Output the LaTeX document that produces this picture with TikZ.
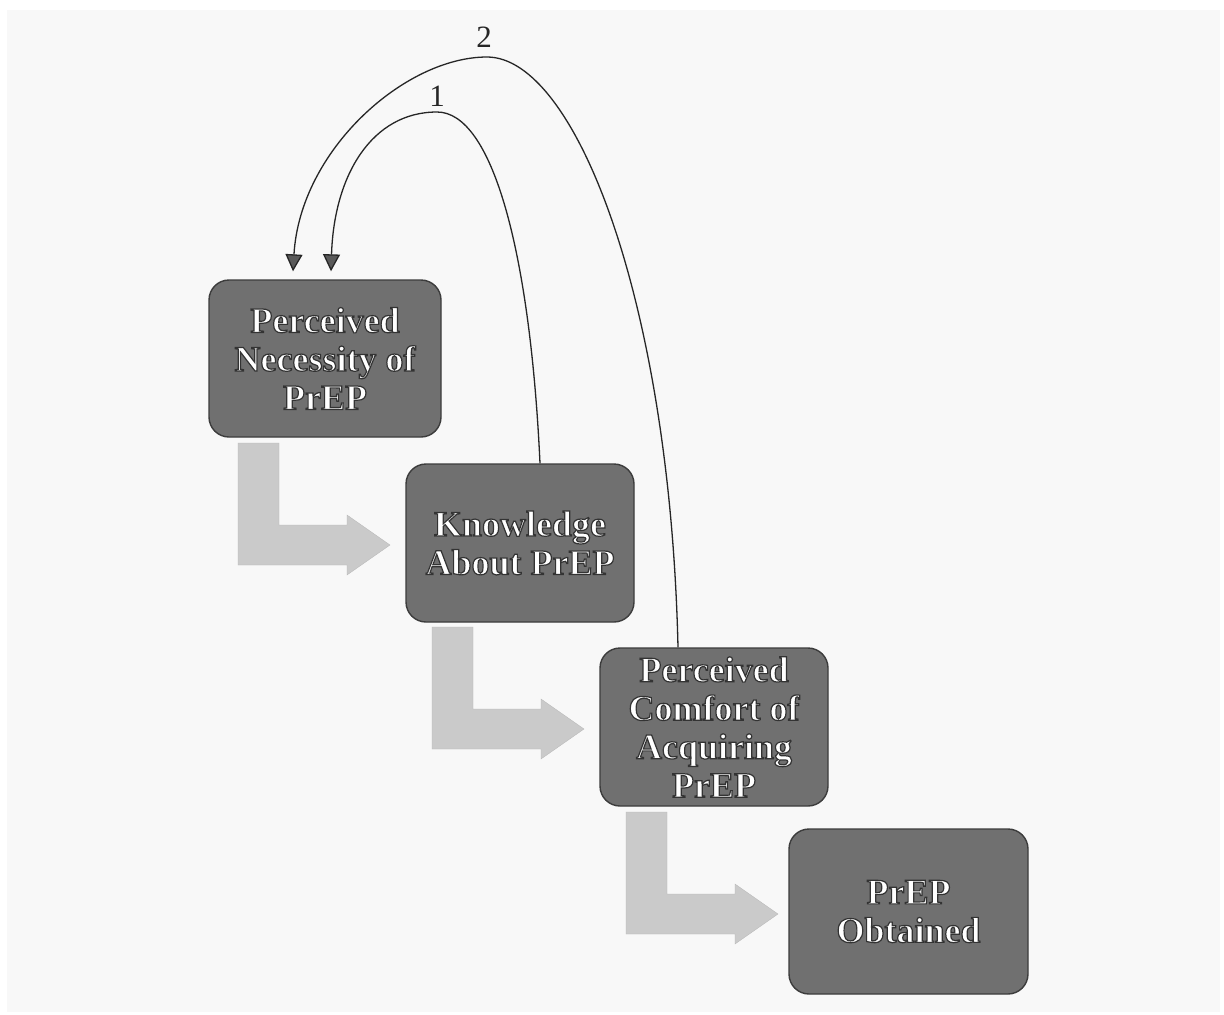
\documentclass[tikz,border=0pt]{standalone}
\usepackage{fontspec}
\setmainfont{Liberation Serif}
\usetikzlibrary{arrows.meta}
\definecolor{bgc}{HTML}{F8F8F8}
\definecolor{boxfill}{HTML}{707070}
\definecolor{boxline}{HTML}{3C3C3C}
\definecolor{bentfill}{HTML}{CACACA}
\definecolor{tipfill}{HTML}{5A5A5A}
\newcommand{\outlon}{\special{pdf:literal direct 2 Tr 0.2 0.2 0.2 RG 1.2 w}}
\newcommand{\outloff}{\special{pdf:literal direct 0 Tr}}
\tikzset{
  stagebox/.style={draw=boxline, line width=1.4pt, fill=boxfill, rounded corners=20pt,
    text=white, align=center, inner sep=0pt,
    font=\fontsize{36}{38.5}\selectfont\bfseries},
  conn/.style={draw=black!85, line width=1.3pt,
    -{Triangle[width=17pt,length=17pt,fill=tipfill]}},
  lbl/.style={font=\fontsize{31}{34}\selectfont, text=black!85, inner sep=0pt},
  bent/.style={fill=bentfill, draw=bentfill!90!black, line width=0.3pt}
}
\begin{document}
\begin{tikzpicture}[x=1pt,y=-1pt]
\useasboundingbox (0,0) rectangle (1224,1015);
\fill[white] (0,0) rectangle (1224,1015);
\fill[bgc] (7,10) rectangle (1220,1012);

% stages
\node[stagebox, minimum width=232pt, minimum height=157pt] (n1) at (325,358.5)
  {\outlon Perceived\\Necessity of\\PrEP\outloff};
\node[stagebox, minimum width=228pt, minimum height=158pt] (n2) at (520,543)
  {\outlon Knowledge\\About PrEP\outloff};
\node[stagebox, minimum width=228pt, minimum height=158pt] (n3) at (714,727)
  {\outlon Perceived\\Comfort of\\Acquiring\\PrEP\outloff};
\node[stagebox, minimum width=239pt, minimum height=165pt] (n4) at (908.5,911.5)
  {\outlon PrEP\\Obtained\outloff};

% bent arrows between stages
\foreach \bx/\by in {238/443, 432/627, 626/812}{
  \path[bent] (\bx,\by) -- ++(41,0) -- ++(0,82) -- ++(68,0) -- ++(0,-10)
    -- ++(43,30) -- ++(-43,30) -- ++(0,-10) -- ++(-109,0) -- cycle;
}

% feedback loops
\coordinate (s1) at ([xshift=20pt]n2.north);
\coordinate (e1) at ([xshift=6pt,yshift=8pt]n1.north);
\coordinate (s2) at ([xshift=-36pt]n3.north);
\coordinate (e2) at ([xshift=-32pt,yshift=8pt]n1.north);

\draw[conn] (s1) .. controls (530,250) and (492,112) .. (437,112)
  .. controls (372,112) and (334,175) .. (e1);
\draw[conn] (s2) .. controls (670,300) and (575,57) .. (487,57)
  .. controls (405,57) and (300,150) .. (e2);

\node[lbl] (l1) at (437,96) {1};
\node[lbl] (l2) at (484,37) {2};
\end{tikzpicture}
\end{document}
